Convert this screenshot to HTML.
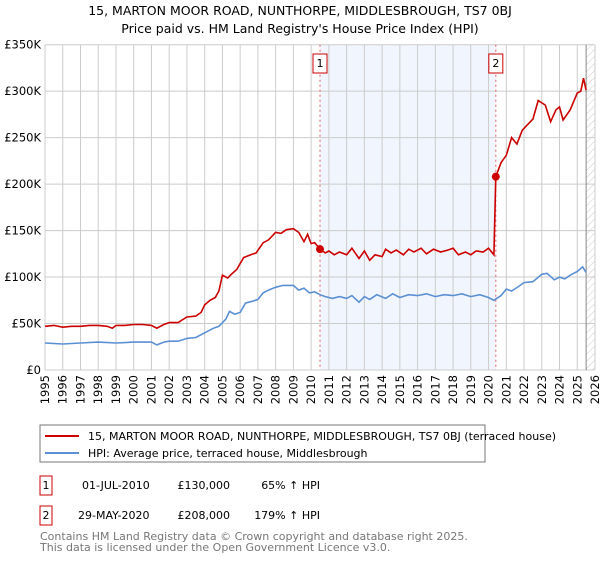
<!DOCTYPE html>
<html><head><meta charset="utf-8"><style>
body{margin:0;background:#fff;font-family:"Liberation Sans","DejaVu Sans",sans-serif;}
svg text{font-family:"DejaVu Sans","Liberation Sans",sans-serif;}
</style></head><body>
<svg id="c" width="600" height="560" xmlns="http://www.w3.org/2000/svg">
<text x="300" y="15" text-anchor="middle" font-size="12.5" fill="#000">15, MARTON MOOR ROAD, NUNTHORPE, MIDDLESBROUGH, TS7 0BJ</text>
<text x="300" y="33" text-anchor="middle" font-size="12.5" fill="#000">Price paid vs. HM Land Registry's House Price Index (HPI)</text>
<defs><pattern id="hatch" width="5" height="5" patternUnits="userSpaceOnUse" patternTransform="rotate(45)"><line x1="0" y1="0" x2="0" y2="5" stroke="#ccc" stroke-width="1"/></pattern></defs>
<g id="plot"></g>
<rect x="40" y="425" width="445" height="37" fill="#fff" stroke="#777"/>
<line x1="45" y1="436" x2="79" y2="436" stroke="#cc0000" stroke-width="2"/>
<text x="88" y="440" font-size="11">15, MARTON MOOR ROAD, NUNTHORPE, MIDDLESBROUGH, TS7 0BJ (terraced house)</text>
<line x1="45" y1="453" x2="79" y2="453" stroke="#5b8fd4" stroke-width="2"/>
<text x="88" y="457" font-size="11">HPI: Average price, terraced house, Middlesbrough</text>
<rect x="40" y="476" width="12" height="19" fill="#fff" stroke="#cc0000"/>
<text x="46" y="489" font-size="11" text-anchor="middle">1</text>
<text x="82" y="489" font-size="11">01-JUL-2010</text>
<text x="230" y="489" font-size="11" text-anchor="end">£130,000</text>
<text x="320" y="489" font-size="11" text-anchor="end">65% ↑ HPI</text>
<rect x="40" y="506" width="12" height="19" fill="#fff" stroke="#cc0000"/>
<text x="46" y="519" font-size="11" text-anchor="middle">2</text>
<text x="78" y="519" font-size="11">29-MAY-2020</text>
<text x="230" y="519" font-size="11" text-anchor="end">£208,000</text>
<text x="320" y="519" font-size="11" text-anchor="end">179% ↑ HPI</text>
<text x="40" y="540" font-size="11" fill="#777">Contains HM Land Registry data © Crown copyright and database right 2025.</text>
<text x="40" y="551" font-size="11" fill="#777">This data is licensed under the Open Government Licence v3.0.</text>
</svg>
<script>
const yTicks=[0,50,100,150,200,250,300,350];
const yTickLabels=["£0","£50K","£100K","£150K","£200K","£250K","£300K","£350K"];
const years=[1995,1996,1997,1998,1999,2000,2001,2002,2003,2004,2005,2006,2007,2008,2009,2010,2011,2012,2013,2014,2015,2016,2017,2018,2019,2020,2021,2022,2023,2024,2025,2026];
const propT=[1995,1995.5,1996,1996.5,1997,1997.5,1998,1998.5,1998.8,1999,1999.5,2000,2000.5,2001,2001.3,2001.7,2002,2002.5,2003,2003.5,2003.8,2004,2004.3,2004.6,2004.8,2005,2005.3,2005.5,2005.8,2006.2,2006.6,2006.9,2007.3,2007.6,2008,2008.3,2008.6,2009,2009.3,2009.6,2009.8,2010,2010.2,2010.5,2010.8,2011,2011.3,2011.6,2012,2012.3,2012.7,2013,2013.3,2013.6,2014,2014.2,2014.5,2014.8,2015.2,2015.5,2015.8,2016.2,2016.5,2016.9,2017.3,2017.7,2018,2018.3,2018.7,2019,2019.3,2019.7,2020,2020.3,2020.41,2020.7,2021,2021.3,2021.6,2021.9,2022.2,2022.5,2022.8,2023.2,2023.5,2023.8,2024,2024.2,2024.6,2025,2025.2,2025.35,2025.5];
const propV=[47,48,46,47,47,48,48,47,45,48,48,49,49,48,45,49,51,51,57,58,62,70,75,78,85,102,99,103,108,121,124,126,137,140,148,147,151,152,148,138,146,136,137,130,126,128,124,127,124,131,120,128,118,124,122,130,126,129,124,130,127,131,125,130,127,129,131,124,127,124,128,127,131,124,208,223,231,250,243,258,264,270,290,285,267,280,283,269,280,298,300,314,301];
const hpiT=[1995,1996,1997,1998,1999,2000,2001,2001.3,2001.7,2002,2002.5,2003,2003.5,2004,2004.5,2004.8,2005.2,2005.4,2005.7,2006,2006.3,2006.7,2007,2007.3,2007.6,2008,2008.4,2009,2009.3,2009.6,2009.9,2010.2,2010.5,2010.8,2011.2,2011.6,2012,2012.3,2012.7,2013,2013.3,2013.7,2014.2,2014.6,2015,2015.5,2016,2016.5,2017,2017.5,2018,2018.5,2019,2019.5,2020,2020.3,2020.7,2021,2021.3,2021.7,2022,2022.5,2023,2023.3,2023.7,2024,2024.3,2024.6,2025,2025.3,2025.5];
const hpiV=[29,28,29,30,29,30,30,27,30,31,31,34,35,40,45,47,55,63,60,62,72,74,76,83,86,89,91,91,86,88,83,84,81,79,77,79,77,80,73,79,76,81,77,82,78,81,80,82,79,81,80,82,79,81,78,75,80,87,85,90,94,95,103,104,97,100,98,102,106,111,105];
const X0=45,X1=595,Y0=370,Y1=44.7;
const xs=t=>X0+(t-1995)/(2026-1995)*(X1-X0);
const ys=v=>Y0-v/350*(Y0-Y1);
const NS="http://www.w3.org/2000/svg";
const g=document.getElementById('plot');
function mk(tag,at){const e=document.createElementNS(NS,tag);for(const k in at)e.setAttribute(k,at[k]);g.appendChild(e);return e;}
let e;
e=mk('rect',{x:xs(2010.5),y:Y1,width:xs(2020.41)-xs(2010.5),height:Y0-Y1,fill:'#eef3fc',opacity:0.8});


e=mk('rect',{x:xs(2025.5),y:Y1,width:X1-xs(2025.5),height:Y0-Y1,fill:'url(#hatch)'});


years.forEach(y=>{e=mk('line',{x1:xs(y),x2:xs(y),y1:Y1,y2:Y0,stroke:'#ccc'});


e=mk('text',{x:0,y:0,'font-size':11.5,'text-anchor':'end',transform:`translate(${xs(y)+4},${Y0+5}) rotate(-90)`});e.textContent=y;

});
yTicks.forEach((v,i)=>{e=mk('line',{x1:X0,x2:X1,y1:ys(v),y2:ys(v),stroke:'#ccc'});


e=mk('text',{x:X0-4,y:ys(v)+4,'font-size':11.5,'text-anchor':'end'});e.textContent=yTickLabels[i];

});
e=mk('line',{x1:xs(2025.5),x2:xs(2025.5),y1:Y1,y2:Y0,stroke:'#888'});


[[2010.5,'1'],[2020.41,'2']].forEach(([t,l])=>{
e=mk('line',{x1:xs(t),x2:xs(t),y1:Y1,y2:Y0,stroke:'#e06060','stroke-dasharray':'2,3'});


e=mk('rect',{x:xs(t)-7,y:54,width:14,height:19,fill:'#fff',stroke:'#cc0000'});


e=mk('text',{x:xs(t),y:67,'font-size':11,'text-anchor':'middle'});e.textContent=l;

});
function path(T,V,c,n){e=mk('path',{d:T.map((t,i)=>(i?'L':'M')+xs(t).toFixed(1)+','+ys(V[i]).toFixed(1)).join(''),fill:'none',stroke:c,'stroke-width':1.6});

}
path(hpiT,hpiV,'#5b8fd4','hpi-line');
path(propT,propV,'#cc0000','property-line');
[[2010.5,130],[2020.41,208]].forEach(([t,v])=>{e=mk('circle',{cx:xs(t),cy:ys(v),r:4,fill:'#cc0000'});

});
</script>
</body></html>
